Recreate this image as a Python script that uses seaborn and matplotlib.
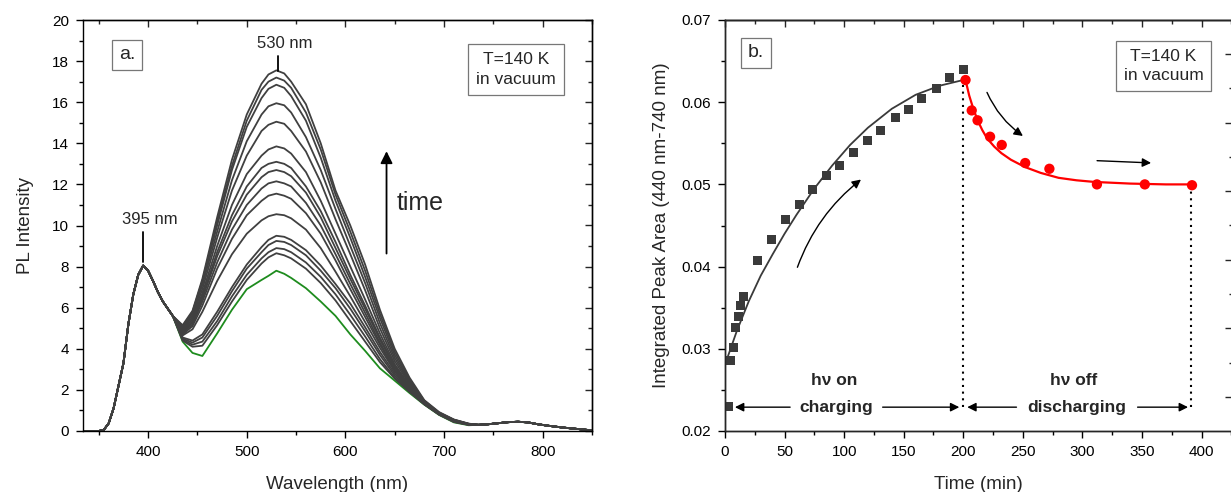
import pandas as pd
import seaborn as sns
import matplotlib.pyplot as plt
from matplotlib.patches import FancyArrowPatch

sns.set_style('ticks')
plt.rcParams['font.family'] = ['Liberation Sans', 'DejaVu Sans']
plt.rcParams['xtick.labelsize'] = 11
plt.rcParams['ytick.labelsize'] = 11
plt.rcParams['axes.labelsize'] = 13.5
plt.rcParams['axes.linewidth'] = 1.0

# ---------------- panel a: PL spectra ----------------
# shared UV band (all spectra overlap here)
uv_nm = [334, 345, 350, 355, 360, 365, 370, 375, 380, 385, 390, 395, 400, 405, 410, 415, 420, 425]
uv_pl = [0.0, 0.0, 0.0, 0.05, 0.37, 1.1, 2.2, 3.3, 5.2, 6.65, 7.6, 8.05, 7.8, 7.3, 6.75, 6.3, 5.95, 5.6]

# green band region, one list per spectrum (highest first)
mid_nm = [435, 445, 455, 470, 485, 500, 515, 522, 530, 538, 545, 560, 575, 590, 605, 620, 635,
          650, 665, 680, 695, 710, 725]
pl_curves = [
    [5.15, 5.85, 7.4, 10.4, 13.2, 15.4, 16.9, 17.35, 17.55, 17.4, 17.0, 15.9, 14.0, 11.7, 10.0, 8.1, 5.9, 4.0, 2.6, 1.5, 0.92, 0.56, 0.36],
    [5.1, 5.8, 7.3, 10.2, 12.9, 15.1, 16.6, 17.0, 17.2, 17.05, 16.7, 15.5, 13.7, 11.5, 9.7, 7.8, 5.7, 3.85, 2.5, 1.47, 0.9, 0.55, 0.35],
    [5.05, 5.75, 7.25, 10.0, 12.7, 14.8, 16.2, 16.65, 16.85, 16.7, 16.3, 15.1, 13.3, 11.2, 9.4, 7.5, 5.5, 3.7, 2.42, 1.44, 0.88, 0.54, 0.35],
    [5.0, 5.65, 7.1, 9.7, 12.2, 14.1, 15.4, 15.8, 15.95, 15.85, 15.5, 14.3, 12.7, 10.8, 9.0, 7.2, 5.25, 3.55, 2.35, 1.42, 0.87, 0.53, 0.34],
    [4.95, 5.55, 6.9, 9.4, 11.7, 13.4, 14.6, 14.9, 15.05, 14.95, 14.6, 13.6, 12.1, 10.3, 8.6, 6.85, 5.0, 3.4, 2.28, 1.4, 0.86, 0.52, 0.34],
    [4.9, 5.45, 6.7, 9.0, 11.0, 12.5, 13.4, 13.7, 13.85, 13.75, 13.5, 12.6, 11.2, 9.6, 8.0, 6.4, 4.75, 3.25, 2.2, 1.38, 0.85, 0.51, 0.33],
    [4.85, 5.35, 6.55, 8.7, 10.5, 11.9, 12.8, 13.0, 13.1, 13.0, 12.8, 11.9, 10.7, 9.2, 7.6, 6.1, 4.55, 3.15, 2.15, 1.37, 0.84, 0.5, 0.33],
    [4.8, 5.3, 6.45, 8.5, 10.2, 11.5, 12.35, 12.6, 12.7, 12.6, 12.4, 11.6, 10.4, 8.9, 7.4, 5.95, 4.45, 3.1, 2.12, 1.36, 0.84, 0.5, 0.33],
    [4.75, 5.2, 6.3, 8.2, 9.8, 11.0, 11.8, 12.05, 12.15, 12.05, 11.9, 11.1, 10.0, 8.6, 7.15, 5.75, 4.3, 3.0, 2.08, 1.35, 0.83, 0.49, 0.32],
    [4.7, 5.1, 6.1, 7.9, 9.35, 10.5, 11.2, 11.45, 11.55, 11.45, 11.3, 10.6, 9.6, 8.3, 6.9, 5.55, 4.2, 2.95, 2.05, 1.34, 0.83, 0.49, 0.32],
    [4.65, 4.95, 5.8, 7.3, 8.6, 9.6, 10.25, 10.45, 10.55, 10.5, 10.35, 9.8, 8.9, 7.75, 6.55, 5.3, 4.05, 2.9, 2.02, 1.33, 0.82, 0.48, 0.32],
    [4.55, 4.4, 4.7, 5.8, 7.0, 8.1, 8.95, 9.3, 9.5, 9.45, 9.3, 8.8, 8.05, 7.15, 6.2, 5.05, 3.85, 2.8, 1.98, 1.32, 0.82, 0.47, 0.31],
    [4.5, 4.3, 4.55, 5.6, 6.8, 7.9, 8.7, 9.05, 9.25, 9.2, 9.05, 8.55, 7.8, 6.95, 5.95, 4.85, 3.7, 2.7, 1.95, 1.31, 0.81, 0.46, 0.31],
    [4.45, 4.2, 4.35, 5.35, 6.55, 7.6, 8.4, 8.7, 8.9, 8.85, 8.7, 8.2, 7.5, 6.65, 5.65, 4.6, 3.5, 2.6, 1.92, 1.3, 0.8, 0.45, 0.3],
    [4.4, 4.1, 4.15, 5.15, 6.3, 7.35, 8.15, 8.45, 8.65, 8.55, 8.4, 7.9, 7.2, 6.35, 5.35, 4.35, 3.35, 2.55, 1.9, 1.3, 0.8, 0.44, 0.3],
]
green_pl = [4.35, 3.8, 3.65, 4.75, 5.9, 6.9, 7.35, 7.55, 7.8, 7.65, 7.45, 6.95, 6.3, 5.6, 4.7, 3.9,
            3.05, 2.45, 1.85, 1.28, 0.78, 0.42, 0.28]

# shared red tail
tail_nm = [735, 745, 755, 765, 775, 785, 795, 805, 820, 835, 850]
tail_pl = [0.3, 0.33, 0.38, 0.43, 0.45, 0.42, 0.33, 0.26, 0.17, 0.1, 0.03]

# ---------------- panel b: integrated area vs time ----------------
charge_t = [2.6, 4.3, 6.9, 8.8, 11.1, 13.4, 15.7, 27.2, 39.2, 50.7, 62.2, 73.3, 85.1, 96.2,
            108.0, 119.8, 130.9, 142.7, 154.1, 165.3, 177.4, 188.5, 200.3]
charge_area = [0.0230, 0.0286, 0.0302, 0.0326, 0.0339, 0.0353, 0.0364, 0.0407, 0.0433, 0.0457,
               0.0475, 0.0494, 0.0511, 0.0523, 0.0539, 0.0554, 0.0565, 0.0581, 0.0591, 0.0604,
               0.0617, 0.0630, 0.0640]
discharge_t = [201.9, 207.1, 212.0, 222.5, 232.3, 252.0, 272.3, 312.2, 352.4, 392.0]
discharge_area = [0.0627, 0.0590, 0.0578, 0.0558, 0.0548, 0.0526, 0.0519, 0.0500, 0.0500, 0.0499]

charge_fit_t = [2, 10, 20, 30, 40, 50, 60, 75, 90, 105, 120, 140, 160, 180, 200]
charge_fit = [0.0289, 0.0322, 0.0358, 0.0389, 0.0415, 0.0440, 0.0463, 0.0495, 0.0523, 0.0548,
              0.0569, 0.0592, 0.0609, 0.0620, 0.0627]
discharge_fit_t = [201.9, 205, 208, 212, 216, 220, 226, 232, 240, 252, 265, 280, 295, 310, 340, 370, 392.7]
discharge_fit = [0.0627, 0.0608, 0.0594, 0.0578, 0.0566, 0.0556, 0.0546, 0.0538, 0.0530, 0.0521,
                 0.0514, 0.0508, 0.0505, 0.0503, 0.0501, 0.0500, 0.0500]

W, H = 1231, 492
fig = plt.figure(figsize=(W / 100, H / 100), dpi=100)
axA = fig.add_axes([83 / W, 61 / H, 509 / W, 411 / H])
axB = fig.add_axes([725 / W, 61 / H, 507.5 / W, 411 / H])

gray = '#404040'

# long-form table of spectra
records = []
for i, mid in enumerate(pl_curves):
    for nm, pl in zip(uv_nm + mid_nm + tail_nm, uv_pl + mid + tail_pl):
        records.append({'curve': i, 'nm': nm, 'pl': pl})
spectra_df = pd.DataFrame(records)

sns.lineplot(x=uv_nm + mid_nm + tail_nm, y=uv_pl + green_pl + tail_pl, color='#1e8c1e',
             lw=1.3, sort=False, ax=axA)
sns.lineplot(data=spectra_df, x='nm', y='pl', units='curve', estimator=None, sort=False,
             color=gray, lw=1.3, ax=axA)

axA.set_xlim(334, 850)
axA.set_ylim(0, 20)
axA.set_xticks([400, 500, 600, 700, 800])
axA.set_xticks(range(350, 851, 50), minor=True)
axA.set_yticks(range(0, 21, 2))
axA.set_yticks(range(0, 21, 1), minor=True)
axA.set_xlabel('Wavelength (nm)', labelpad=12)
axA.set_ylabel('PL Intensity', labelpad=13)

# annotations panel a
axA.plot([395, 395], [8.2, 9.7], color='black', lw=1.3)
axA.text(401.5, 10.3, '395 nm', ha='center', va='center', fontsize=12)
axA.plot([531.8, 531.8], [17.5, 18.25], color='black', lw=1.3)
axA.text(539, 18.85, '530 nm', ha='center', va='center', fontsize=12)
axA.annotate('', xy=(641.7, 13.75), xytext=(641.7, 8.5),
             arrowprops=dict(arrowstyle='-|>', color='black', lw=1.3, mutation_scale=18))
axA.text(676, 11.1, 'time', ha='center', va='center', fontsize=18)
box = dict(boxstyle='square,pad=0.35', fc='white', ec='#777777', lw=0.9)
axA.text(378.5, 18.3, 'a.', ha='center', va='center', fontsize=14, bbox=box)
axA.text(773, 17.6, 'T=140 K\nin vacuum', ha='center', va='center', fontsize=12.5,
         linespacing=1.4, bbox=dict(boxstyle='square,pad=0.45', fc='white', ec='#777777', lw=0.9))

# ---------------- panel b ----------------
sns.lineplot(x=charge_fit_t, y=charge_fit, color='#3a3a3a', lw=1.3, sort=False, ax=axB)
sns.lineplot(x=discharge_fit_t, y=discharge_fit, color='red', lw=1.6, sort=False, ax=axB)
sns.scatterplot(x=charge_t, y=charge_area, marker='s', s=42, color='#3a3a3a',
                edgecolor='none', ax=axB, zorder=3)
sns.scatterplot(x=discharge_t, y=discharge_area, marker='o', s=55, color='red',
                edgecolor='none', ax=axB, zorder=3)

axB.set_xlim(0, 426)
axB.set_ylim(0.02, 0.07)
axB.set_xticks(range(0, 401, 50))
axB.set_xticks(range(25, 426, 25), minor=True)
axB.set_yticks([0.02, 0.03, 0.04, 0.05, 0.06, 0.07])
axB.set_yticklabels(['0.02', '0.03', '0.04', '0.05', '0.06', '0.07'])
axB.set_yticks([0.025, 0.035, 0.045, 0.055, 0.065], minor=True)
axB.set_xlabel('Time (min)', labelpad=12)
axB.set_ylabel('Integrated Peak Area (440 nm-740 nm)', labelpad=8)

# dotted guides
axB.plot([199.5, 199.5], [0.0229, 0.0623], color='black', lw=1.5, ls=(0, (1, 2.2)))
axB.plot([391.5, 391.5], [0.0229, 0.0497], color='black', lw=1.5, ls=(0, (1, 2.2)))

arrow_kw = dict(arrowstyle='-|>', color='black', lw=1.0, mutation_scale=13)
y_arr = 0.0229
for x_head, x_tail in [(6.0, 57), (199, 130), (201, 247), (391, 344)]:
    axB.annotate('', xy=(x_head, y_arr), xytext=(x_tail, y_arr), arrowprops=arrow_kw)
axB.text(93, y_arr, 'charging', ha='center', va='center', fontsize=12.5, fontweight='bold')
axB.text(295, y_arr, 'discharging', ha='center', va='center', fontsize=12.5, fontweight='bold')
axB.text(92, 0.0262, 'h\u03bd on', ha='center', va='center', fontsize=12.5, fontweight='bold')
axB.text(293, 0.0262, 'h\u03bd off', ha='center', va='center', fontsize=12.5, fontweight='bold')

axB.add_patch(FancyArrowPatch((60, 0.0396), (116, 0.0508), connectionstyle='arc3,rad=-0.15',
                              arrowstyle='-|>', mutation_scale=13, color='black', lw=1.0))
axB.add_patch(FancyArrowPatch((219, 0.0615), (252, 0.0557), connectionstyle='arc3,rad=0.15',
                              arrowstyle='-|>', mutation_scale=13, color='black', lw=1.0))
axB.add_patch(FancyArrowPatch((310, 0.0529), (360, 0.0526), arrowstyle='-|>',
                              mutation_scale=13, color='black', lw=1.0))

axB.text(26, 0.066, 'b.', ha='center', va='center', fontsize=14, bbox=box)
axB.text(368, 0.0644, 'T=140 K\nin vacuum', ha='center', va='center', fontsize=12.5,
         linespacing=1.4, bbox=dict(boxstyle='square,pad=0.45', fc='white', ec='#777777', lw=0.9))

# tick styling: out on left/bottom, mirrored inward on top/right
for ax in (axA, axB):
    ax.tick_params(which='both', direction='out', top=False, right=False, colors='black', pad=5)
    ax.tick_params(which='major', length=5, width=1)
    ax.tick_params(which='minor', length=3, width=1)
    for sp in ax.spines.values():
        sp.set_visible(True)
        sp.set_color('black')
    top = ax.secondary_xaxis('top')
    top.set_xticks(ax.get_xticks())
    top.set_xticks(ax.get_xticks(minor=True), minor=True)
    top.tick_params(which='both', direction='in', labeltop=False)
    top.tick_params(which='major', length=5, width=1)
    top.tick_params(which='minor', length=3, width=1)

rightA = axA.secondary_yaxis('right')
rightA.set_yticks(range(0, 21, 2))
rightA.set_yticks(range(0, 21, 1), minor=True)
rightA.tick_params(which='both', direction='in', labelright=False)
rightA.tick_params(which='major', length=5, width=1)
rightA.tick_params(which='minor', length=3, width=1)

# right-hand scale of panel b (its labels fall outside the crop)
twinB = axB.twinx()
twinB.set_ylim(0, 12)
twinB.set_yticks([1, 3, 5, 7, 9, 11])
twinB.set_yticks([2, 4, 6, 8, 10], minor=True)
twinB.tick_params(which='both', direction='in', labelright=False)
twinB.tick_params(which='major', length=6, width=1)
twinB.tick_params(which='minor', length=3, width=1)

fig.savefig('out.png', dpi=100)
